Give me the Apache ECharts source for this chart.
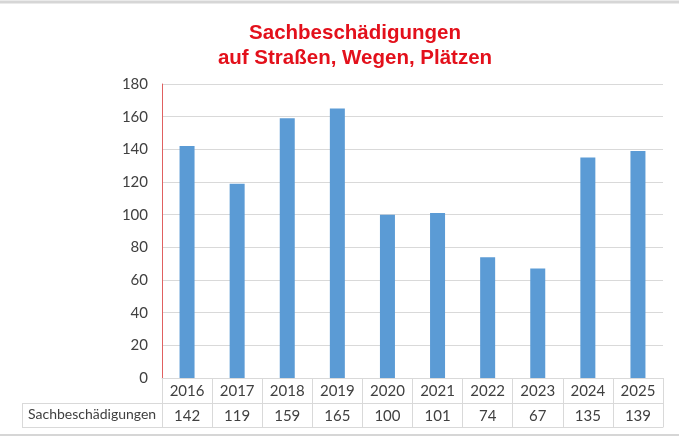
<!DOCTYPE html>
<html>
<head>
<meta charset="utf-8">
<script src="https://cdn.jsdelivr.net/npm/echarts@6/dist/echarts.min.js"></script>
<style>
  html, body { margin: 0; padding: 0; background: #fff; }
  #chart { width: 679px; height: 436px; }
</style>
</head>
<body>
<div id="chart"></div>
<script>
var years = ['2016', '2017', '2018', '2019', '2020', '2021', '2022', '2023', '2024', '2025'];
var values = [142, 119, 159, 165, 100, 101, 74, 67, 135, 139];
var seriesName = 'Sachbeschädigungen';
var titleLines = ['Sachbeschädigungen', 'auf Straßen, Wegen, Plätzen'];

var gridLine = '#d9d9d9';
var textCol = '#404040';
var font = 'Lato';

var chart = echarts.init(document.getElementById('chart'));

chart.setOption({
    backgroundColor: '#fff',
    animation: false,
    title: {
        text: titleLines.join('\n'),
        left: 350,
        top: 16,
        textAlign: 'center',
        textStyle: {
            color: '#e3101b',
            fontFamily: 'Liberation Sans',
            fontWeight: 'bold',
            fontSize: 20.5,
            lineHeight: 25
        }
    },
    grid: {
        left: 162,
        right: 16,
        top: 84,
        bottom: 58
    },
    xAxis: [
        {
            type: 'category',
            data: years,
            position: 'bottom',
            axisLine: { lineStyle: { color: gridLine, width: 1 } },
            axisTick: { show: true, length: 49, interval: 0, lineStyle: { color: gridLine } },
            axisLabel: { margin: 6, fontSize: 15, color: textCol, fontFamily: font, interval: 0 }
        },
        {
            type: 'category',
            data: values.map(String),
            position: 'bottom',
            offset: 25,
            axisLine: { lineStyle: { color: gridLine, width: 1 } },
            axisTick: { show: false },
            axisLabel: { margin: 6, fontSize: 15, color: textCol, fontFamily: font, interval: 0 }
        },
        {
            type: 'category',
            data: years,
            position: 'bottom',
            offset: 49,
            axisLine: { lineStyle: { color: gridLine, width: 1 } },
            axisTick: { show: false },
            axisLabel: { show: false }
        }
    ],
    yAxis: {
        type: 'value',
        min: 0,
        max: 180,
        interval: 20,
        axisLine: { show: true, lineStyle: { color: '#e06060', width: 1 } },
        axisTick: { show: false },
        axisLabel: { margin: 14, fontSize: 15, color: textCol, fontFamily: font },
        splitLine: { lineStyle: { color: gridLine, width: 1 } }
    },
    graphic: [
        // table left cell borders
        { type: 'line', shape: { x1: 22, y1: 403.5, x2: 162, y2: 403.5 }, style: { stroke: gridLine, lineWidth: 1 } },
        { type: 'line', shape: { x1: 22, y1: 427.5, x2: 162, y2: 427.5 }, style: { stroke: gridLine, lineWidth: 1 } },
        { type: 'line', shape: { x1: 22.5, y1: 403, x2: 22.5, y2: 428 }, style: { stroke: gridLine, lineWidth: 1 } },
        {
            type: 'text', left: 28, top: 407,
            style: { text: seriesName, fontSize: 14, fill: textCol, fontFamily: font }
        },
        // outer frame lines
        { type: 'line', shape: { x1: 0, y1: 2, x2: 679, y2: 2 }, style: { stroke: '#d6d6d6', lineWidth: 3 } },
        { type: 'line', shape: { x1: 0, y1: 435, x2: 679, y2: 435 }, style: { stroke: '#d6d6d6', lineWidth: 2 } }
    ],
    series: [
        {
            name: seriesName,
            type: 'bar',
            data: values,
            barWidth: 15,
            itemStyle: { color: '#5b9bd5' }
        }
    ]
});
</script>
</body>
</html>
